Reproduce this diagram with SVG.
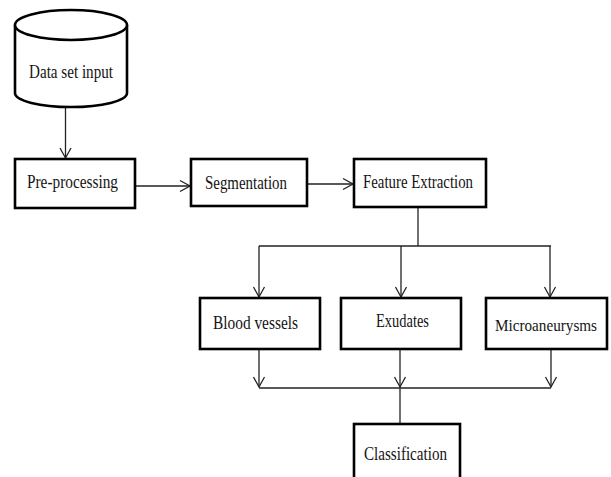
<svg xmlns="http://www.w3.org/2000/svg" width="611" height="477" viewBox="0 0 611 477">
<style>
.box{fill:#fff;stroke:#000;stroke-width:2.6}
.lbl{font-family:"Liberation Serif","Times New Roman",serif;font-size:18px;fill:#141414}
.sm{font-size:16px}
.con{fill:none;stroke:#222;stroke-width:1.3}
</style>
<defs>
<marker id="arr" markerWidth="14" markerHeight="14" refX="11" refY="7" orient="auto" markerUnits="userSpaceOnUse">
<path d="M1,1.5 L11,7 L1,12.5" fill="none" stroke="#222" stroke-width="1.3"/>
</marker>
</defs>
<rect width="611" height="477" fill="#fff"/>
<g id="connectors">
<line class="con" x1="65.5" y1="107" x2="65.5" y2="158" marker-end="url(#arr)"/>
<line class="con" x1="135" y1="186" x2="190" y2="186" marker-end="url(#arr)"/>
<line class="con" x1="307" y1="184" x2="353" y2="184" marker-end="url(#arr)"/>
<line class="con" x1="418" y1="207" x2="418" y2="246"/>
<line class="con" x1="259" y1="246" x2="551" y2="246"/>
<line class="con" x1="259" y1="246" x2="259" y2="297" marker-end="url(#arr)"/>
<line class="con" x1="401" y1="246" x2="401" y2="297" marker-end="url(#arr)"/>
<line class="con" x1="550" y1="246" x2="550" y2="297" marker-end="url(#arr)"/>
<line class="con" x1="259" y1="349" x2="259" y2="387" marker-end="url(#arr)"/>
<line class="con" x1="400" y1="349" x2="400" y2="387" marker-end="url(#arr)"/>
<line class="con" x1="551" y1="349" x2="551" y2="387" marker-end="url(#arr)"/>
<line class="con" x1="259" y1="388" x2="551" y2="388"/>
<line class="con" x1="400" y1="388" x2="400" y2="424"/>
</g>
<g id="dataset">
<path class="box" d="M15,25 L15,93 A56,14 0 0 0 127,93 L127,25"/>
<ellipse class="box" cx="71" cy="25" rx="56" ry="15"/>
<text class="lbl" x="29" y="78" textLength="84" lengthAdjust="spacingAndGlyphs">Data set input</text>
</g>
<g id="preprocessing">
<rect class="box" x="15" y="159" width="120" height="49"/>
<text class="lbl" x="27" y="188" textLength="91" lengthAdjust="spacingAndGlyphs">Pre-processing</text>
</g>
<g id="segmentation">
<rect class="box" x="191" y="159" width="116" height="47"/>
<text class="lbl" x="205" y="189" textLength="82" lengthAdjust="spacingAndGlyphs">Segmentation</text>
</g>
<g id="feature">
<rect class="box" x="354" y="159" width="132" height="48"/>
<text class="lbl" x="363" y="188" textLength="110" lengthAdjust="spacingAndGlyphs">Feature Extraction</text>
</g>
<g id="blood">
<rect class="box" x="200" y="298" width="120" height="51"/>
<text class="lbl" x="213" y="329" textLength="85" lengthAdjust="spacingAndGlyphs">Blood vessels</text>
</g>
<g id="exudates">
<rect class="box" x="341" y="298" width="120" height="51"/>
<text class="lbl" x="376" y="327" textLength="53" lengthAdjust="spacingAndGlyphs">Exudates</text>
</g>
<g id="micro">
<rect class="box" x="486" y="298" width="121" height="51"/>
<text class="lbl sm" x="495" y="331" textLength="102" lengthAdjust="spacingAndGlyphs">Microaneurysms</text>
</g>
<g id="classification">
<rect class="box" x="354" y="424" width="106" height="60"/>
<text class="lbl" x="364" y="460" textLength="83" lengthAdjust="spacingAndGlyphs">Classification</text>
</g>
</svg>
